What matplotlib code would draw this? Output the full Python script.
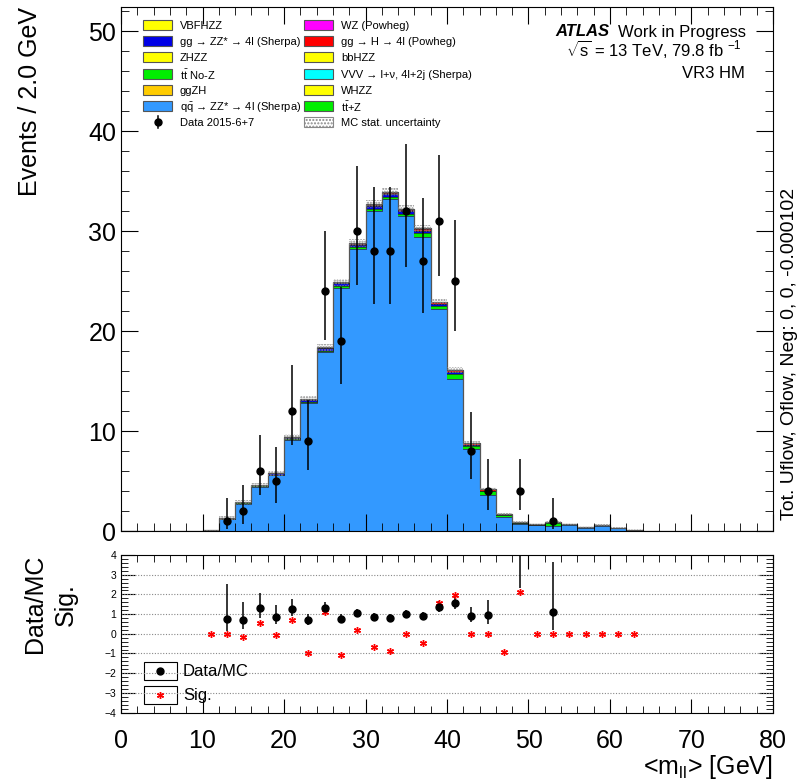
import math
import numpy as np
import matplotlib
matplotlib.use("Agg")
import matplotlib.pyplot as plt
from matplotlib.patches import Rectangle
from matplotlib.lines import Line2D
from matplotlib.ticker import MultipleLocator

plt.rcParams['font.family'] = ['Liberation Sans', 'DejaVu Sans']
plt.rcParams['mathtext.fontset'] = 'custom'
plt.rcParams['mathtext.rm'] = 'Liberation Sans'
plt.rcParams['mathtext.it'] = 'Liberation Sans:italic'
plt.rcParams['mathtext.bf'] = 'Liberation Sans:bold'

# 2 GeV bins from 0 to 80, only 10-64 GeV are filled
edges = np.arange(0, 82, 2)
first_bin = 5

qqzz = [0.10, 1.21, 2.75, 4.38, 5.57, 9.07, 12.79, 17.90, 24.31, 28.17, 32.00, 33.22, 31.52, 29.43,
        22.18, 15.20, 8.22, 3.58, 1.45, 0.74, 0.57, 0.55, 0.56, 0.33, 0.49, 0.31, 0.15]
ttz = [0, .03, .05, .08, .08, .10, .12, .15, .18, .20, .25, .20, .20, .40,
       .30, .55, .30, .40, .15, .05, .05, .30, .10, .05, .08, .03, 0]
ggzz = [0, .05, .08, .12, .12, .18, .22, .25, .28, .28, .28, .28, .25, .22,
        .18, .12, .08, .05, .03, .02, .02, .02, .01, .01, .01, 0, 0]
ggh = [0, 0, 0, 0, 0, .02, .03, .05, .08, .10, .12, .15, .18, .20,
       .20, .20, .18, .15, .06, .08, .05, .02, .02, 0, .01, 0, 0]
wz = [0, .01, .02, .02, .03, .03, .04, .05, .05, .05, .05, .05, .05, .05,
      .04, .03, .02, .02, .01, .01, .01, .01, .01, .01, .01, .01, 0]
mc_err = [0.05, 0.2, 0.25, 0.25, 0.25, 0.3, 0.3, 0.35, 0.35, 0.4, 0.4, 0.4, 0.4, 0.35,
          0.3, 0.3, 0.25, 0.2, 0.12, 0.1, 0.08, 0.1, 0.08, 0.06, 0.06, 0.05, 0.04]
data = [0, 1, 2, 6, 5, 12, 9, 24, 19, 30, 28, 28, 32, 27,
        31, 25, 8, 4, 0, 4, 0, 1, 0, 0, 0, 0, 0]
sig = [0, 0, -0.15, 0.56, -0.05, 0.70, -0.98, 1.12, -1.08, 0.19, -0.69, -0.87, 0, -0.45,
       1.55, 1.97, -0.03, 0, -0.90, 2.14, 0, 0, 0, 0, 0, 0, 0]

legend_col1 = [('#ffff00', 'VBFHZZ'),
               ('#0000e6', 'gg → ZZ* → 4l (Sherpa)'),
               ('#ffff00', 'ZHZZ'),
               ('#00ee00', r'$\mathrm{t\bar{t}}$ No-Z'),
               ('#ffcc00', 'ggZH'),
               ('#3399ff', r'$\mathrm{q\bar{q}}$ → ZZ* → 4l (Sherpa)'),
               ('data', 'Data 2015-6+7')]
legend_col2 = [('#ff00ff', 'WZ (Powheg)'),
               ('#ff0000', 'gg → H → 4l (Powheg)'),
               ('#ffff00', 'bbHZZ'),
               ('#00ffff', 'VVV → l+ν, 4l+2j (Sherpa)'),
               ('#ffff00', 'WHZZ'),
               ('#00ee00', r'$\mathrm{t\bar{t}}$+Z'),
               ('hatch', 'MC stat. uncertainty')]


def pad(v):
    out = np.zeros(len(edges) - 1)
    out[first_bin:first_bin + len(v)] = v
    return out


def poisson_cdf(k, mu):
    term = math.exp(-mu)
    s = term
    for i in range(1, k + 1):
        term *= mu / i
        s += term
    return s


def garwood(n, a=0.15865):
    lo = 0.0
    if n > 0:
        a0, b0 = 0.0, float(n)
        for _ in range(60):
            m = 0.5 * (a0 + b0)
            if 1 - poisson_cdf(n - 1, m) < a:
                a0 = m
            else:
                b0 = m
        lo = 0.5 * (a0 + b0)
    a0, b0 = float(n), n + 10 * math.sqrt(n + 1) + 10
    for _ in range(60):
        m = 0.5 * (a0 + b0)
        if poisson_cdf(n, m) > a:
            a0 = m
        else:
            b0 = m
    hi = 0.5 * (a0 + b0)
    return n - lo, hi - n


W, H = 802, 780


def fx(px):
    return px / W


def fy(py):
    return 1 - py / H


centers = edges[:-1] + 1
layers = [(pad(qqzz), '#3399ff'), (pad(ttz), '#00ee00'), (pad(ggzz), '#0000e6'),
          (pad(ggh), '#ff0000'), (pad(wz), '#ff00ff')]
err = pad(mc_err)
d = pad(data)
s = pad(sig)

fig = plt.figure(figsize=(W / 100, H / 100), dpi=100)
ax = fig.add_axes([0.1509, 0.3192, 0.8129, 0.6718])
ax2 = fig.add_axes([0.1509, 0.0865, 0.8129, 0.2019])

bottom = np.zeros(len(centers))
for vals, col in layers:
    ax.bar(centers, vals, width=2, bottom=bottom, color=col, linewidth=0)
    bottom = bottom + vals
    ax.stairs(bottom, edges, color='#222222', linewidth=0.5)
total = bottom
ax.stairs(total, edges, color='#555555', linewidth=0.9)

filled = total > 0
ax.bar(centers[filled], 2 * err[filled], width=2, bottom=total[filled] - err[filled],
       facecolor='none', edgecolor='#888888', hatch='......', linewidth=0)

has = d > 0
derr = np.array([garwood(int(n)) for n in d[has]]).T
ax.errorbar(centers[has], d[has], yerr=derr, fmt='o', color='black', ms=5,
            elinewidth=1.1, capsize=0)

ax.set_xlim(0, 80)
ax.set_ylim(0, 52.4)
ax.xaxis.set_major_locator(MultipleLocator(10))
ax.xaxis.set_minor_locator(MultipleLocator(2))
ax.yaxis.set_major_locator(MultipleLocator(10))
ax.yaxis.set_minor_locator(MultipleLocator(2))
ax.tick_params(which='both', direction='in', top=True, right=True, labelbottom=False, labelsize=18)
ax.tick_params(which='major', length=12)
ax.tick_params(which='minor', length=6)
ax.set_ylabel("Events / 2.0 GeV", fontsize=18, loc='top', labelpad=33)

# legend drawn by hand so the rows are evenly spaced like the ROOT one
for entries, x0 in ((legend_col1, 143), (legend_col2, 304)):
    for i, (kind, label) in enumerate(entries):
        yc = 25 + 16.2 * i
        if kind == 'data':
            fig.add_artist(Line2D([fx(x0 + 14.5)] * 2, [fy(yc - 6), fy(yc + 6)], color='black', lw=1.1))
            fig.add_artist(Line2D([fx(x0 + 14.5)], [fy(yc)], marker='o', color='black', ms=5))
        elif kind == 'hatch':
            fig.add_artist(Rectangle((fx(x0), fy(yc + 5)), fx(29), 10 / H, fc='white', ec='#888888',
                                     hatch='.....', lw=0.8))
        else:
            fig.add_artist(Rectangle((fx(x0), fy(yc + 5)), fx(29), 10 / H, fc=kind, ec='#555555', lw=0.8))
        fig.text(fx(x0 + 37), fy(yc), label, fontsize=8, ha='left', va='center_baseline')

fig.text(fx(555), fy(32), "ATLAS", fontsize=12, fontweight='bold', fontstyle='italic',
         ha='left', va='center')
fig.text(fx(618), fy(32), "Work in Progress", fontsize=12, ha='left', va='center')
fig.text(fx(742), fy(49), r"$\sqrt{\mathrm{s}}$ = 13 TeV, 79.8 fb $^{-1}$", fontsize=12,
         ha='right', va='center')
fig.text(fx(745), fy(74), "VR3 HM", fontsize=12, ha='right', va='center')
fig.text(fx(789), fy(354), "Tot. Uflow, Oflow, Neg: 0, 0, -0.000102", fontsize=14,
         rotation=90, ha='center', va='center')

# ratio / significance panel
for y in range(-3, 4):
    ax2.axhline(y, color='#888888', ls=(0, (1, 1.5)), lw=0.8)
ratio = d[has] / total[has]
rerr = ratio * derr / d[has]
ax2.errorbar(centers[has], ratio, yerr=rerr, fmt='o', color='black', ms=5, elinewidth=1.1, capsize=0)
ax2.plot(centers[filled], s[filled], ls='none', marker=(6, 2, 0), color='red', ms=5, mew=1)

ax2.set_xlim(0, 80)
ax2.set_ylim(-4, 4)
ax2.xaxis.set_major_locator(MultipleLocator(10))
ax2.xaxis.set_minor_locator(MultipleLocator(2))
ax2.yaxis.set_major_locator(MultipleLocator(1))
ax2.yaxis.set_minor_locator(MultipleLocator(0.2))
ax2.tick_params(which='both', direction='in', top=True, right=True)
ax2.tick_params(axis='x', labelsize=18, pad=12)
ax2.tick_params(axis='y', labelsize=7.5)
ax2.tick_params(which='major', length=10)
ax2.tick_params(which='minor', length=5)
ax2.set_ylabel("Data/MC\nSig.", fontsize=18, loc='top', multialignment='center', labelpad=19,
               linespacing=1.35)
ax2.set_xlabel(r"<m$_{\mathrm{ll}}$> [GeV]", fontsize=18, loc='right', labelpad=0)

for yb, marker, col, label in ((0.206, 'o', 'black', 'Data/MC'), (0.054, (6, 2, 0), 'red', 'Sig.')):
    ax2.add_patch(Rectangle((0.035, yb), 0.051, 0.112, transform=ax2.transAxes, fill=False,
                            ec='black', lw=0.8))
    ax2.plot([0.0605], [yb + 0.056], marker=marker, color=col, ms=5, transform=ax2.transAxes)
    ax2.text(0.095, yb + 0.056, label, transform=ax2.transAxes, fontsize=12, va='center')

fig.savefig("out.png", dpi=100)
